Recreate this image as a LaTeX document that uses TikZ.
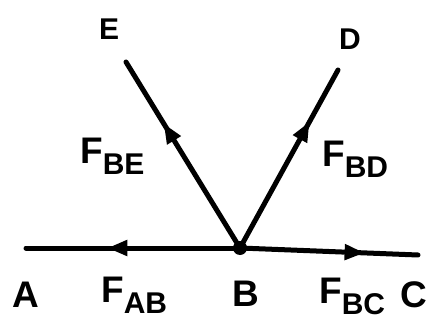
\documentclass[tikz,border=0pt]{standalone}
\usepackage{fontspec}
\setmainfont{Liberation Sans}
\usetikzlibrary{arrows.meta,decorations.markings}
\newcommand{\bigtxt}[1]{{\fontsize{37}{37}\selectfont\bfseries #1}}
\newcommand{\ptlbl}[1]{{\fontsize{30}{30}\selectfont\bfseries #1}}
\newcommand{\forcelbl}[2]{\bigtxt{#1}\raisebox{-11pt}{\fontsize{30}{30}\selectfont\bfseries #2}}
\tikzset{
  member/.style={line width=5pt, line cap=round},
  midarrow/.style={postaction={decorate},
    decoration={markings, mark=at position #1 with {\arrow{Triangle[length=20pt,width=15pt]}}}},
  lbl/.style={inner sep=0pt, anchor=base west}
}
\begin{document}
\begin{tikzpicture}[x=1pt,y=-1pt]
\useasboundingbox (0,0) rectangle (430,320);
\coordinate (Bj) at (240,248);
\coordinate (Aend) at (26,248);
\coordinate (Cend) at (418,255);
\coordinate (Eend) at (126,62);
\coordinate (Dend) at (338,70);
\draw[member, midarrow=0.62] (Bj) -- (Aend);
\draw[member, midarrow=0.70] (Bj) -- (Cend);
\draw[member, midarrow=0.67] (Bj) -- (Eend);
\draw[member, midarrow=0.71] (Bj) -- (Dend);
\fill (Bj) circle (7pt);
\node[lbl] (E) at (99,40) {\ptlbl{E}};
\node[lbl] (D) at (339,50) {\ptlbl{D}};
\node[lbl] (A) at (12,307) {\bigtxt{A}};
\node[lbl] (B) at (232,306) {\bigtxt{B}};
\node[lbl] (C) at (400,307) {\bigtxt{C}};
\node[lbl] (FBE) at (80,164) {\forcelbl{F}{BE}};
\node[lbl] (FBD) at (322,167) {\forcelbl{F}{BD}};
\node[lbl] (FAB) at (101,302) {\forcelbl{F}{AB}};
\node[lbl] (FBC) at (319,303) {\forcelbl{F}{BC}};
\end{tikzpicture}
\end{document}
